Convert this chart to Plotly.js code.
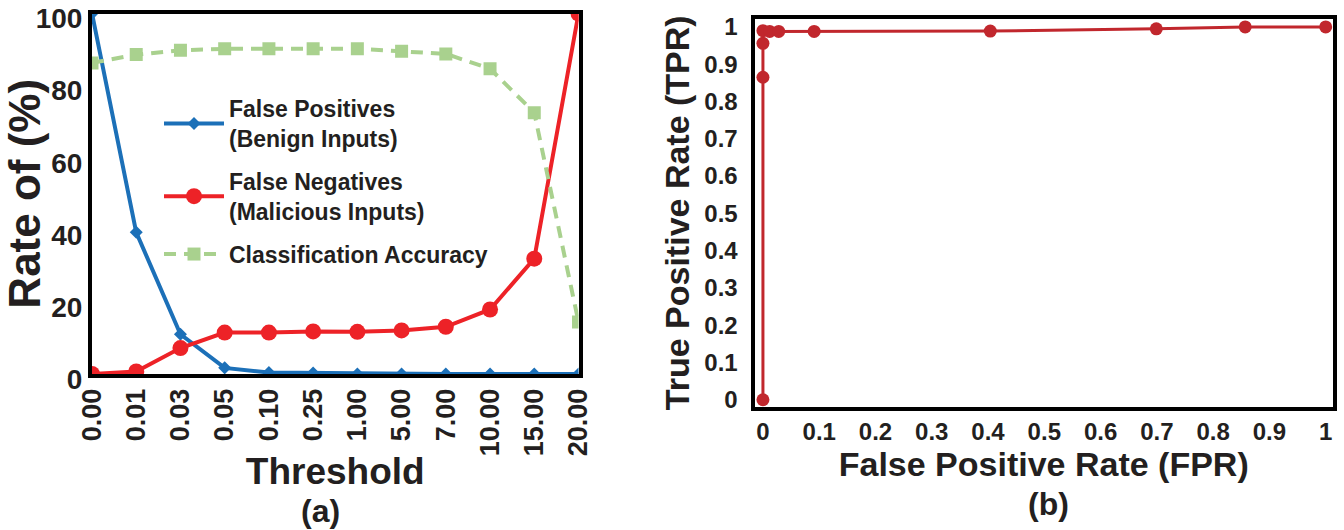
<!DOCTYPE html>
<html>
<head>
<meta charset="utf-8">
<script src="https://cdn.plot.ly/plotly-3.0.1.min.js"></script>
<style>html,body{margin:0;padding:0;background:#fff;}#chart{width:1344px;height:530px;}</style>
</head>
<body>
<div id="chart"></div>
<script>
// ---- data ----
const thresholds = ['0.00','0.01','0.03','0.05','0.10','0.25','1.00','5.00','7.00','10.00','15.00','20.00'];
const falsePositives = [100, 39.3, 11.0, 1.7, 0.4, 0.3, 0, 0, 0, 0, 0, 0];
const falseNegatives = [0, 0.7, 7.2, 11.5, 11.5, 11.8, 11.7, 12.1, 13.1, 17.9, 32.0, 100];
const accuracy = [86.3, 88.6, 89.8, 90.2, 90.2, 90.2, 90.2, 89.5, 88.8, 84.7, 72.5, 14.4];
const rateTicks = [0, 20, 40, 60, 80, 100];
const rocFPR = [0, 0, 0, 0, 0.012, 0.028, 0.091, 0.404, 0.699, 0.857, 1.0];
const rocTPR = [0, 0.865, 0.956, 0.99, 0.988, 0.988, 0.988, 0.989, 0.995, 1.0, 1.0];
const fprTicks = [0, 0.1, 0.2, 0.3, 0.4, 0.5, 0.6, 0.7, 0.8, 0.9, 1];
const fprTickText = ['0','0.1','0.2','0.3','0.4','0.5','0.6','0.7','0.8','0.9','1'];
const tprTicks = [0, 0.1, 0.2, 0.3, 0.4, 0.5, 0.6, 0.7, 0.8, 0.9, 1];
const tprTickText = ['0','0.1','0.2','0.3','0.4','0.5','0.6','0.7','0.8','0.9','1'];

const FAM = 'Liberation Sans, Arial, Helvetica, sans-serif';
const TXT = '#231f20';
const W = 1344, H = 530;
const px = v => v / W, py = v => (H - v) / H;

const traces = [
  {x: thresholds, y: falsePositives, type: 'scatter', mode: 'lines+markers',
   name: 'False Positives<br>(Benign Inputs)', xaxis: 'x', yaxis: 'y', legendgroup: 'a',
   line: {color: '#1c70b8', width: 4}, marker: {symbol: 'diamond', size: 10, color: '#1c70b8'}},
  {x: thresholds, y: falseNegatives, type: 'scatter', mode: 'lines+markers',
   name: 'False Negatives<br>(Malicious Inputs)', xaxis: 'x', yaxis: 'y', legendgroup: 'b',
   line: {color: '#ed2227', width: 4}, marker: {symbol: 'circle', size: 16, color: '#ed2227'}},
  {x: thresholds, y: accuracy, type: 'scatter', mode: 'lines+markers',
   name: 'Classification Accuracy', xaxis: 'x', yaxis: 'y', legendgroup: 'c',
   line: {color: '#a9d18e', width: 4, dash: '12px,8px'}, marker: {symbol: 'square', size: 13, color: '#a9d18e'}},
  {x: rocFPR, y: rocTPR, type: 'scatter', mode: 'lines+markers', showlegend: false,
   name: 'ROC', xaxis: 'x2', yaxis: 'y2',
   line: {color: '#c1272d', width: 3}, marker: {symbol: 'circle', size: 13, color: '#c1272d'}}
];

const axisBase = {showgrid: false, zeroline: false, showline: true, linecolor: '#000', linewidth: 4,
  mirror: true, ticks: '', color: TXT, ticklabeloverflow: 'allow'};

const layout = {
  width: W, height: H,
  margin: {l: 0, r: 0, t: 0, b: 0},
  paper_bgcolor: '#fff', plot_bgcolor: '#fff',
  font: {family: FAM, color: TXT, weight: 700},
  showlegend: true,
  legend: {x: px(159), y: py(87), xanchor: 'left', yanchor: 'top', bgcolor: 'rgba(0,0,0,0)',
    font: {size: 23, family: FAM, color: TXT, weight: 700}, itemwidth: 60,
    traceorder: 'grouped', tracegroupgap: 10},
  xaxis: Object.assign({}, axisBase, {domain: [px(92), px(578.5)], type: 'category',
    range: [0, 11], tickangle: -90, tickfont: {size: 27, family: FAM, color: TXT, weight: 700},
    title: {text: 'Threshold', font: {size: 37, family: FAM, color: TXT, weight: 700}, standoff: 4},
    anchor: 'y'}),
  yaxis: Object.assign({}, axisBase, {domain: [py(374), py(13.5)], range: [0, 100],
    tickvals: rateTicks, tickfont: {size: 28, family: FAM, color: TXT, weight: 700},
    ticklabelshift: 5,
    title: {text: 'Rate of (%)', font: {size: 44, family: FAM, color: TXT, weight: 700}, standoff: 0},
    anchor: 'x'}),
  xaxis2: Object.assign({}, axisBase, {domain: [px(754.5), px(1333)], range: [-0.015, 1.013],
    tickvals: fprTicks, ticktext: fprTickText, tickfont: {size: 24, family: FAM, color: TXT, weight: 700},
    title: {text: 'False Positive Rate (FPR)', font: {size: 34, family: FAM, color: TXT, weight: 700}, standoff: 9},
    anchor: 'y2'}),
  yaxis2: Object.assign({}, axisBase, {domain: [py(407), py(18.5)], range: [-0.0194, 1.0226],
    tickvals: tprTicks, ticktext: tprTickText, tickfont: {size: 24, family: FAM, color: TXT, weight: 700},
    ticklabelstandoff: 8,
    title: {text: 'True Positive Rate (TPR)', font: {size: 34, family: FAM, color: TXT, weight: 700}, standoff: 5},
    anchor: 'x2'}),
  annotations: [
    {text: '(a)', xref: 'paper', yref: 'paper', x: px(320), y: py(511), xanchor: 'center', yanchor: 'middle',
     showarrow: false, font: {size: 32, family: FAM, color: TXT, weight: 700}},
    {text: '(b)', xref: 'paper', yref: 'paper', x: px(1048), y: py(504), xanchor: 'center', yanchor: 'middle',
     showarrow: false, font: {size: 32, family: FAM, color: TXT, weight: 700}}
  ]
};

Plotly.newPlot('chart', traces, layout, {displayModeBar: false, staticPlot: true});
</script>
</body>
</html>
